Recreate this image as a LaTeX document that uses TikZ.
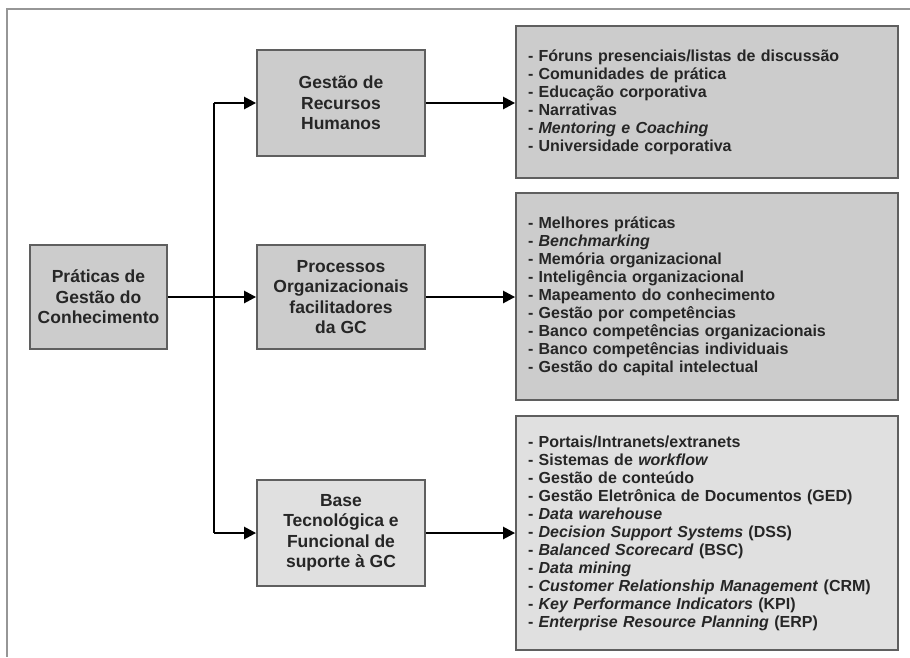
\documentclass[tikz,border=0pt]{standalone}
\usepackage{fontspec}
\setmainfont{Liberation Sans}
\usepackage{tikz}
\usetikzlibrary{shapes,arrows,arrows.meta,positioning}
\definecolor{boxgray}{RGB}{204,204,204}
\definecolor{boxlight}{RGB}{224,224,224}
\definecolor{edgegray}{RGB}{95,95,95}
\definecolor{framegray}{RGB}{150,150,150}
\definecolor{inkgray}{RGB}{38,38,38}

\begin{document}
\begin{tikzpicture}[x=1pt,y=-1pt,
  titlebox/.style={draw=edgegray,line width=1.8pt,fill=boxgray,text=inkgray,
    align=center,font=\bfseries\fontsize{17.5}{20.5}\selectfont,inner sep=0pt},
  listbox/.style={draw=edgegray,line width=1.8pt,fill=boxgray,text=inkgray,
    align=left,text width=358pt,inner xsep=12pt,inner ysep=0pt,
    font=\bfseries\fontsize{16}{18}\selectfont},
  conn/.style={line width=2.5pt,-{Triangle[length=12pt,width=12pt]}},
  trunkline/.style={line width=2.5pt}]
\useasboundingbox (0,0) rectangle (910,657);

% outer frame
\draw[framegray,line width=2pt] (910,9) -- (7,9) -- (7,657);

% root
\node[titlebox,minimum width=137pt,minimum height=104pt] (pgc) at (98.5,297)
  {Práticas de\\Gestão do\\Conhecimento};

% middle column
\node[titlebox,minimum width=168pt,minimum height=106pt] (grh) at (341,103)
  {Gestão de\\Recursos\\Humanos};
\node[titlebox,minimum width=168pt,minimum height=104pt] (pof) at (341,297)
  {Processos\\Organizacionais\\facilitadores\\da GC};
\node[titlebox,fill=boxlight,minimum width=168pt,minimum height=106pt] (btf) at (341,533)
  {Base\\Tecnológica e\\Funcional de\\suporte à GC};

% lists
\node[listbox,minimum height=152pt] (lgrh) at (707,102)
  {- Fóruns presenciais/listas de discussão\\
   - Comunidades de prática\\
   - Educação corporativa\\
   - Narrativas\\
   - \textit{Mentoring e Coaching}\\
   - Universidade corporativa};
\node[listbox,minimum height=207pt] (lpof) at (707,296.5)
  {- Melhores práticas\\
   - \textit{Benchmarking}\\
   - Memória organizacional\\
   - Inteligência organizacional\\
   - Mapeamento do conhecimento\\
   - Gestão por competências\\
   - Banco competências organizacionais\\
   - Banco competências individuais\\
   - Gestão do capital intelectual};
\node[listbox,fill=boxlight,minimum height=234pt] (lbtf) at (707,533)
  {- Portais/Intranets/extranets\\
   - Sistemas de \textit{workflow}\\
   - Gestão de conteúdo\\
   - Gestão Eletrônica de Documentos (GED)\\
   - \textit{Data warehouse}\\
   - \textit{Decision Support Systems} (DSS)\\
   - \textit{Balanced Scorecard} (BSC)\\
   - \textit{Data mining}\\
   - \textit{Customer Relationship Management} (CRM)\\
   - \textit{Key Performance Indicators} (KPI)\\
   - \textit{Enterprise Resource Planning} (ERP)};

% connectors
\coordinate (jt) at (214,103);
\coordinate (jb) at (214,533);
\draw[trunkline] (jt) -- (jb);
\draw[conn] (pgc.east) -- (pof.west);
\draw[conn] (jt) -- (grh.west);
\draw[conn] (jb) -- (btf.west);
\draw[conn] (grh.east) -- (grh.east -| lgrh.west);
\draw[conn] (pof.east) -- (pof.east -| lpof.west);
\draw[conn] (btf.east) -- (btf.east -| lbtf.west);
\end{tikzpicture}
\end{document}
